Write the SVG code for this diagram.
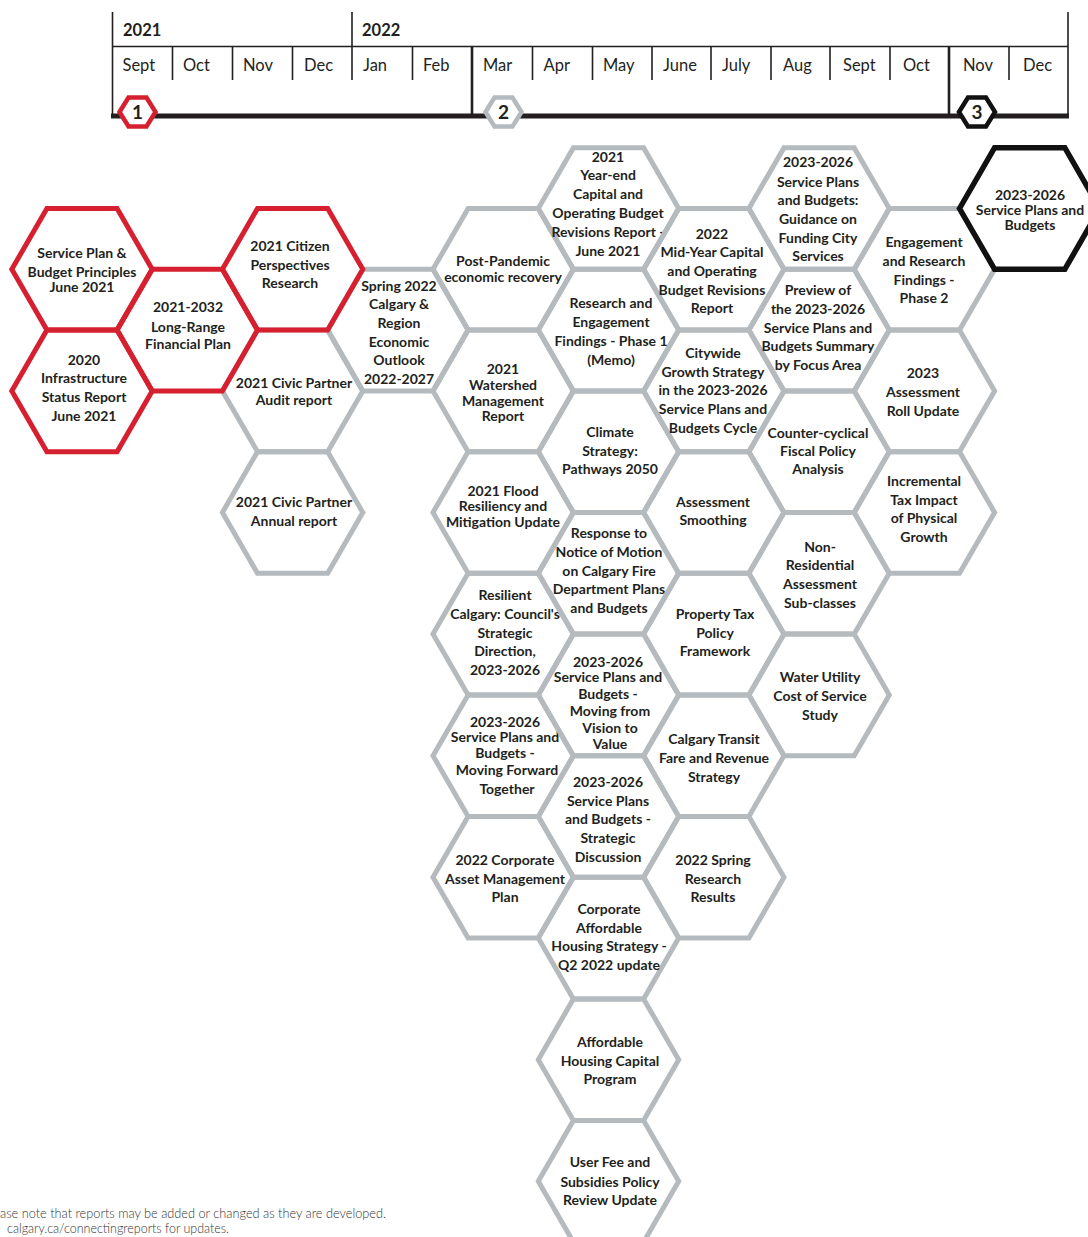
<svg xmlns="http://www.w3.org/2000/svg" xmlns:xlink="http://www.w3.org/1999/xlink" width="1088" height="1237" viewBox="0 0 1088 1237">
<style>
.g{fill:none;stroke:#b5babe;stroke-width:5;stroke-linejoin:miter}
.r{fill:none;stroke:#d7202f;stroke-width:5;stroke-linejoin:miter}
.k{fill:none;stroke:#111;stroke-width:5.5;stroke-linejoin:miter}
.t{font-family:Lato,"Open Sans","Liberation Sans",sans-serif;font-weight:700;font-size:14px;fill:#231f20;text-anchor:middle}
.mo{font-family:Lato,"Open Sans","Liberation Sans",sans-serif;font-weight:400;font-size:16.5px;fill:#231f20}
.yr{font-family:Lato,"Open Sans","Liberation Sans",sans-serif;font-weight:700;font-size:16.5px;fill:#231f20}
.ln{stroke:#231f20;stroke-width:1.6;fill:none}
.lnb{stroke:#231f20;stroke-width:2.6;fill:none}
.mk{font-family:Lato,"Liberation Sans",sans-serif;font-weight:700;font-size:19px;fill:#231f20;text-anchor:middle}
.ft{font-family:Lato,"Open Sans","Liberation Sans",sans-serif;font-weight:300;font-size:13.5px;fill:#333}
</style>
<defs>
<polygon id="hx" points="-70.2,0 -35.1,-60.8 35.1,-60.8 70.2,0 35.1,60.8 -35.1,60.8"/>
<polygon id="mh" points="-18,0 -9,-14.5 9,-14.5 18,0 9,14.5 -9,14.5"/>
</defs>
<rect width="1088" height="1237" fill="#fff"/>

<g id="timeline">
<line class="ln" x1="112.5" y1="12" x2="112.5" y2="117"/>
<line class="ln" x1="352" y1="12" x2="352" y2="80"/>
<line class="ln" x1="1068" y1="12" x2="1068" y2="117"/>
<line class="ln" x1="112" y1="46.5" x2="1068" y2="46.5"/>
<g class="ln">
<line x1="172.5" y1="46.5" x2="172.5" y2="80"/>
<line x1="232.5" y1="46.5" x2="232.5" y2="80"/>
<line x1="292.5" y1="46.5" x2="292.5" y2="80"/>
<line x1="412.5" y1="46.5" x2="412.5" y2="80"/>
<line x1="532.5" y1="46.5" x2="532.5" y2="80"/>
<line x1="592.5" y1="46.5" x2="592.5" y2="80"/>
<line x1="652" y1="46.5" x2="652" y2="80"/>
<line x1="711" y1="46.5" x2="711" y2="80"/>
<line x1="771" y1="46.5" x2="771" y2="80"/>
<line x1="830" y1="46.5" x2="830" y2="80"/>
<line x1="890" y1="46.5" x2="890" y2="80"/>
<line x1="1009" y1="46.5" x2="1009" y2="80"/>
</g>
<line class="lnb" x1="472" y1="46.5" x2="472" y2="116"/>
<line class="lnb" x1="949" y1="46.5" x2="949" y2="116"/>
<line x1="111" y1="116" x2="1069" y2="116" stroke="#231f20" stroke-width="5"/>
<text class="yr" x="123" y="36">2021</text>
<text class="yr" x="362" y="36">2022</text>
<text class="mo" x="122.5" y="71">Sept</text>
<text class="mo" x="183" y="71">Oct</text>
<text class="mo" x="243" y="71">Nov</text>
<text class="mo" x="304" y="71">Dec</text>
<text class="mo" x="363" y="71">Jan</text>
<text class="mo" x="423" y="71">Feb</text>
<text class="mo" x="483" y="71">Mar</text>
<text class="mo" x="543.5" y="71">Apr</text>
<text class="mo" x="603" y="71">May</text>
<text class="mo" x="663" y="71">June</text>
<text class="mo" x="722" y="71">July</text>
<text class="mo" x="783" y="71">Aug</text>
<text class="mo" x="843" y="71">Sept</text>
<text class="mo" x="903" y="71">Oct</text>
<text class="mo" x="963" y="71">Nov</text>
<text class="mo" x="1023" y="71">Dec</text>
<g id="marker1"><use xlink:href="#mh" x="137.5" y="112" fill="#fff" stroke="#d7202f" stroke-width="4.5"/><text class="mk" x="137.5" y="119">1</text></g>
<g id="marker2"><use xlink:href="#mh" x="503.5" y="112" fill="#fff" stroke="#b5babe" stroke-width="4.5"/><text class="mk" x="503.5" y="119">2</text></g>
<g id="marker3"><use xlink:href="#mh" x="977" y="112" fill="#fff" stroke="#111" stroke-width="4.5"/><text class="mk" x="977" y="119">3</text></g>
</g>

<g id="connectors"/>

<!-- gray nodes -->
<g id="n-civic-audit"><use xlink:href="#hx" class="g" x="292.6" y="390.9"/><text class="t"><tspan x="294" y="388">2021 Civic Partner</tspan><tspan x="294" y="405">Audit report</tspan></text></g>
<g id="n-civic-annual"><use xlink:href="#hx" class="g" x="292.6" y="512.5"/><text class="t"><tspan x="294" y="507">2021 Civic Partner</tspan><tspan x="294" y="526">Annual report</tspan></text></g>
<g id="n-spring-outlook"><use xlink:href="#hx" class="g" x="397.9" y="330.1"/><text class="t"><tspan x="399" y="291">Spring 2022</tspan><tspan x="399" y="309">Calgary &amp;</tspan><tspan x="399" y="328">Region</tspan><tspan x="399" y="347">Economic</tspan><tspan x="399" y="365">Outlook</tspan><tspan x="399" y="384">2022-2027</tspan></text></g>

<g id="n-post-pandemic"><use xlink:href="#hx" class="g" x="503.2" y="269.3"/><text class="t"><tspan x="503" y="266">Post-Pandemic</tspan><tspan x="503" y="282">economic recovery</tspan></text></g>
<g id="n-watershed"><use xlink:href="#hx" class="g" x="503.2" y="390.9"/><text class="t"><tspan x="503" y="374">2021</tspan><tspan x="503" y="390">Watershed</tspan><tspan x="503" y="406">Management</tspan><tspan x="503" y="421">Report</tspan></text></g>
<g id="n-flood"><use xlink:href="#hx" class="g" x="503.2" y="512.5"/><text class="t"><tspan x="503" y="496">2021 Flood</tspan><tspan x="503" y="511">Resiliency and</tspan><tspan x="503" y="527">Mitigation Update</tspan></text></g>
<g id="n-resilient"><use xlink:href="#hx" class="g" x="503.2" y="634.1"/><text class="t"><tspan x="505" y="600">Resilient</tspan><tspan x="505" y="619">Calgary: Council's</tspan><tspan x="505" y="638">Strategic</tspan><tspan x="505" y="656">Direction,</tspan><tspan x="505" y="675">2023-2026</tspan></text></g>
<g id="n-moving-forward"><use xlink:href="#hx" class="g" x="503.2" y="755.7"/><text class="t"><tspan x="505" y="727">2023-2026</tspan><tspan x="505" y="742">Service Plans and</tspan><tspan x="505" y="758">Budgets -</tspan><tspan x="507" y="775">Moving Forward</tspan><tspan x="507" y="794">Together</tspan></text></g>
<g id="n-asset-mgmt"><use xlink:href="#hx" class="g" x="503.2" y="877.3"/><text class="t"><tspan x="505" y="865">2022 Corporate</tspan><tspan x="505" y="884">Asset Management</tspan><tspan x="505" y="902">Plan</tspan></text></g>

<g id="n-year-end"><use xlink:href="#hx" class="g" x="608.5" y="208.5"/><text class="t"><tspan x="608" y="162">2021</tspan><tspan x="608" y="180">Year-end</tspan><tspan x="608" y="199">Capital and</tspan><tspan x="608" y="218">Operating Budget</tspan><tspan x="608" y="237">Revisions Report -</tspan><tspan x="608" y="256">June 2021</tspan></text></g>
<g id="n-research-phase1"><use xlink:href="#hx" class="g" x="608.5" y="330.1"/><text class="t"><tspan x="611" y="308">Research and</tspan><tspan x="611" y="327">Engagement</tspan><tspan x="611" y="346">Findings - Phase 1</tspan><tspan x="611" y="365">(Memo)</tspan></text></g>
<g id="n-climate"><use xlink:href="#hx" class="g" x="608.5" y="451.7"/><text class="t"><tspan x="610" y="437">Climate</tspan><tspan x="610" y="456">Strategy:</tspan><tspan x="610" y="474">Pathways 2050</tspan></text></g>
<g id="n-fire"><use xlink:href="#hx" class="g" x="608.5" y="573.3"/><text class="t"><tspan x="609" y="538">Response to</tspan><tspan x="609" y="557">Notice of Motion</tspan><tspan x="609" y="576">on Calgary Fire</tspan><tspan x="609" y="594">Department Plans</tspan><tspan x="609" y="613">and Budgets</tspan></text></g>
<g id="n-vision-value"><use xlink:href="#hx" class="g" x="608.5" y="694.9"/><text class="t"><tspan x="608" y="667">2023-2026</tspan><tspan x="608" y="682">Service Plans and</tspan><tspan x="608" y="699">Budgets -</tspan><tspan x="610" y="716">Moving from</tspan><tspan x="610" y="733">Vision to</tspan><tspan x="610" y="749">Value</tspan></text></g>
<g id="n-strategic-discussion"><use xlink:href="#hx" class="g" x="608.5" y="816.5"/><text class="t"><tspan x="608" y="787">2023-2026</tspan><tspan x="608" y="806">Service Plans</tspan><tspan x="608" y="824">and Budgets -</tspan><tspan x="608" y="843">Strategic</tspan><tspan x="608" y="862">Discussion</tspan></text></g>
<g id="n-housing-strategy"><use xlink:href="#hx" class="g" x="608.5" y="938.1"/><text class="t"><tspan x="609" y="914">Corporate</tspan><tspan x="609" y="933">Affordable</tspan><tspan x="609" y="951">Housing Strategy -</tspan><tspan x="609" y="970">Q2 2022 update</tspan></text></g>
<g id="n-housing-capital"><use xlink:href="#hx" class="g" x="608.5" y="1059.7"/><text class="t"><tspan x="610" y="1047">Affordable</tspan><tspan x="610" y="1066">Housing Capital</tspan><tspan x="610" y="1084">Program</tspan></text></g>
<g id="n-user-fee"><use xlink:href="#hx" class="g" x="608.5" y="1181.3"/><text class="t"><tspan x="610" y="1167">User Fee and</tspan><tspan x="610" y="1187">Subsidies Policy</tspan><tspan x="610" y="1205">Review Update</tspan></text></g>

<g id="n-mid-year"><use xlink:href="#hx" class="g" x="713.8" y="269.3"/><text class="t"><tspan x="712" y="239">2022</tspan><tspan x="712" y="257">Mid-Year Capital</tspan><tspan x="712" y="276">and Operating</tspan><tspan x="712" y="295">Budget Revisions</tspan><tspan x="712" y="313">Report</tspan></text></g>
<g id="n-growth"><use xlink:href="#hx" class="g" x="713.8" y="390.9"/><text class="t"><tspan x="713" y="358">Citywide</tspan><tspan x="713" y="377">Growth Strategy</tspan><tspan x="713" y="395">in the 2023-2026</tspan><tspan x="713" y="414">Service Plans and</tspan><tspan x="713" y="433">Budgets Cycle</tspan></text></g>
<g id="n-smoothing"><use xlink:href="#hx" class="g" x="713.8" y="512.5"/><text class="t"><tspan x="713" y="507">Assessment</tspan><tspan x="713" y="525">Smoothing</tspan></text></g>
<g id="n-property-tax"><use xlink:href="#hx" class="g" x="713.8" y="634.1"/><text class="t"><tspan x="715" y="619">Property Tax</tspan><tspan x="715" y="638">Policy</tspan><tspan x="715" y="656">Framework</tspan></text></g>
<g id="n-transit"><use xlink:href="#hx" class="g" x="713.8" y="755.7"/><text class="t"><tspan x="714" y="744">Calgary Transit</tspan><tspan x="714" y="763">Fare and Revenue</tspan><tspan x="714" y="782">Strategy</tspan></text></g>
<g id="n-spring-research"><use xlink:href="#hx" class="g" x="713.8" y="877.3"/><text class="t"><tspan x="713" y="865">2022 Spring</tspan><tspan x="713" y="884">Research</tspan><tspan x="713" y="902">Results</tspan></text></g>

<g id="n-guidance"><use xlink:href="#hx" class="g" x="819.1" y="208.5"/><text class="t"><tspan x="818" y="167">2023-2026</tspan><tspan x="818" y="187">Service Plans</tspan><tspan x="818" y="205">and Budgets:</tspan><tspan x="818" y="224">Guidance on</tspan><tspan x="818" y="243">Funding City</tspan><tspan x="818" y="261">Services</tspan></text></g>
<g id="n-preview"><use xlink:href="#hx" class="g" x="819.1" y="330.1"/><text class="t"><tspan x="818" y="295">Preview of</tspan><tspan x="818" y="314">the 2023-2026</tspan><tspan x="818" y="333">Service Plans and</tspan><tspan x="818" y="351">Budgets Summary</tspan><tspan x="818" y="370">by Focus Area</tspan></text></g>
<g id="n-counter-cyclical"><use xlink:href="#hx" class="g" x="819.1" y="451.7"/><text class="t"><tspan x="818" y="438">Counter-cyclical</tspan><tspan x="818" y="456">Fiscal Policy</tspan><tspan x="818" y="474">Analysis</tspan></text></g>
<g id="n-non-residential"><use xlink:href="#hx" class="g" x="819.1" y="573.3"/><text class="t"><tspan x="820" y="552">Non-</tspan><tspan x="820" y="570">Residential</tspan><tspan x="820" y="589">Assessment</tspan><tspan x="820" y="608">Sub-classes</tspan></text></g>
<g id="n-water"><use xlink:href="#hx" class="g" x="819.1" y="694.9"/><text class="t"><tspan x="820" y="682">Water Utility</tspan><tspan x="820" y="701">Cost of Service</tspan><tspan x="820" y="720">Study</tspan></text></g>

<g id="n-engagement-phase2"><use xlink:href="#hx" class="g" x="924.4" y="269.3"/><text class="t"><tspan x="924" y="247">Engagement</tspan><tspan x="924" y="266">and Research</tspan><tspan x="924" y="285">Findings -</tspan><tspan x="924" y="303">Phase 2</tspan></text></g>
<g id="n-roll-update"><use xlink:href="#hx" class="g" x="924.4" y="390.9"/><text class="t"><tspan x="923" y="378">2023</tspan><tspan x="923" y="397">Assessment</tspan><tspan x="923" y="416">Roll Update</tspan></text></g>
<g id="n-incremental"><use xlink:href="#hx" class="g" x="924.4" y="512.5"/><text class="t"><tspan x="924" y="486">Incremental</tspan><tspan x="924" y="505">Tax Impact</tspan><tspan x="924" y="523">of Physical</tspan><tspan x="924" y="542">Growth</tspan></text></g>

<!-- red nodes -->
<g id="n-principles"><use xlink:href="#hx" class="r" x="82" y="269.3"/><text class="t"><tspan x="82" y="258">Service Plan  &amp;</tspan><tspan x="82" y="277">Budget Principles</tspan><tspan x="82" y="292">June 2021</tspan></text></g>
<g id="n-infrastructure"><use xlink:href="#hx" class="r" x="82" y="390.9"/><text class="t"><tspan x="84" y="365">2020</tspan><tspan x="84" y="383">Infrastructure</tspan><tspan x="84" y="402">Status Report</tspan><tspan x="84" y="421">June 2021</tspan></text></g>
<g id="n-citizen"><use xlink:href="#hx" class="r" x="292.6" y="269.3"/><text class="t"><tspan x="290" y="251">2021 Citizen</tspan><tspan x="290" y="270">Perspectives</tspan><tspan x="290" y="288">Research</tspan></text></g>
<g id="n-long-range"><use xlink:href="#hx" class="r" x="187.3" y="330.1"/><text class="t"><tspan x="188" y="312">2021-2032</tspan><tspan x="188" y="332">Long-Range</tspan><tspan x="188" y="349">Financial Plan</tspan></text></g>

<!-- black node -->
<g id="n-final"><use xlink:href="#hx" class="k" x="1029.7" y="208.5"/><text class="t"><tspan x="1030" y="200">2023-2026</tspan><tspan x="1030" y="215">Service Plans and</tspan><tspan x="1030" y="230">Budgets</tspan></text></g>

<g id="footer">
<text class="ft" x="0" y="1218" textLength="386" lengthAdjust="spacingAndGlyphs">ase note that reports may be added or changed as they are developed.</text>
<text class="ft" x="7" y="1233" textLength="222" lengthAdjust="spacingAndGlyphs">calgary.ca/connectingreports for updates.</text>
</g>
</svg>
